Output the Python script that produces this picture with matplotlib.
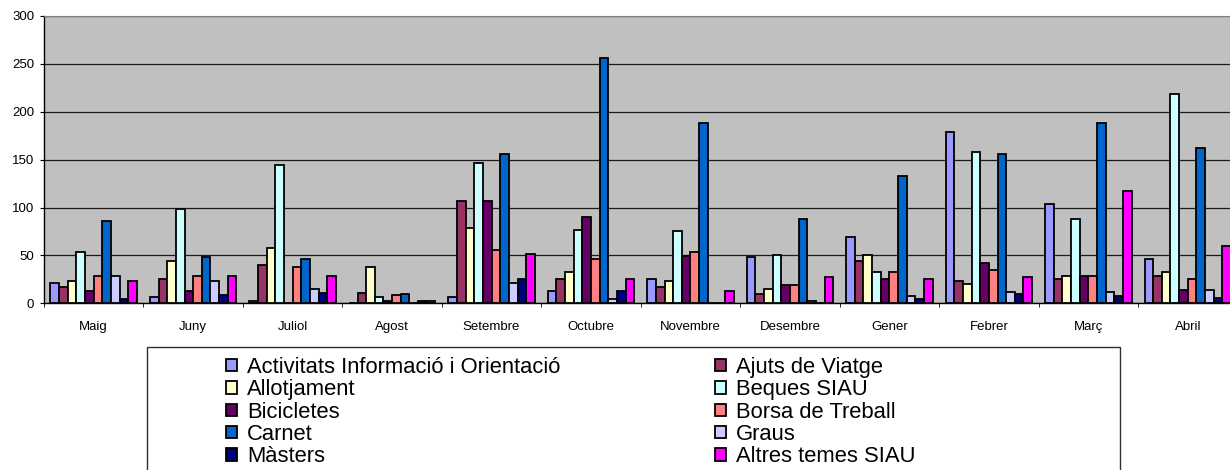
import numpy as np
import matplotlib
matplotlib.use("Agg")
import matplotlib.pyplot as plt
from matplotlib.patches import Rectangle, Patch

plt.rcParams['font.family'] = ['Liberation Sans', 'DejaVu Sans']

mesos = ['Maig', 'Juny', 'Juliol', 'Agost', 'Setembre', 'Octubre', 'Novembre',
         'Desembre', 'Gener', 'Febrer', 'Març', 'Abril']

temes = ['Activitats Informació i Orientació', 'Ajuts de Viatge', 'Allotjament',
         'Beques SIAU', 'Bicicletes', 'Borsa de Treball', 'Carnet', 'Graus',
         'Màsters', 'Altres temes SIAU']

activitats  = [21, 7, 2, 0, 7, 13, 25, 48, 69, 179, 104, 46]
ajuts       = [17, 25, 40, 11, 107, 25, 17, 10, 44, 23, 25, 29]
allotjament = [23, 44, 58, 38, 79, 33, 23, 15, 50, 20, 29, 33]
beques      = [54, 98, 144, 7, 146, 77, 75, 50, 33, 158, 88, 219]
bicicletes  = [13, 13, 0, 2, 107, 90, 49, 19, 25, 42, 29, 14]
borsa       = [29, 29, 38, 9, 56, 46, 54, 19, 33, 35, 29, 25]
carnet      = [86, 48, 46, 10, 156, 256, 188, 88, 133, 156, 188, 162]
graus       = [29, 23, 15, 0, 21, 4, 0, 2, 8, 12, 12, 14]
masters     = [5, 9, 11, 2, 25, 13, 0, 0, 4, 10, 8, 6]
altres      = [23, 29, 28, 2, 52, 25, 13, 27, 25, 27, 117, 60]

series = [activitats, ajuts, allotjament, beques, bicicletes, borsa, carnet,
          graus, masters, altres]
colors = ['#9999FF', '#993366', '#FFFFCC', '#CCFFFF', '#660066', '#FF8080',
          '#0066CC', '#CCCCFF', '#000080', '#FF00FF']

W, H = 1230, 470
fig = plt.figure(figsize=(W / 100, H / 100), dpi=100)
ax = fig.add_axes([44 / W, (H - 303.3) / H, 1193.5 / W, 287.3 / H])
ax.set_facecolor('#C0C0C0')

x = np.arange(len(mesos))
n = len(series)
bw = 1 / (n + 1.5)   # gap of 150% between groups
for i, (vals, c) in enumerate(zip(series, colors)):
    ax.bar(x + (i - (n - 1) / 2) * bw, vals, bw, color=c, edgecolor='black',
           linewidth=1.3, zorder=3, label=temes[i])

ax.set_xlim(-0.5, len(mesos) - 0.5)
ax.set_ylim(0, 300)
ax.set_yticks(range(0, 301, 50))
ax.yaxis.grid(True, color='#1a1a1a', linewidth=0.9, zorder=1)
ax.tick_params(axis='y', labelsize=9.5, length=3, pad=4, direction='out')

ax.set_xticks(x, mesos)
ax.set_xticks(np.arange(-0.5, len(mesos)), minor=True)
ax.tick_params(axis='x', which='major', length=0, labelsize=9.5, pad=13)
ax.tick_params(axis='x', which='minor', length=3, direction='out')

ax.spines['right'].set_visible(False)
ax.spines['top'].set_color('#808080')
ax.spines['left'].set_linewidth(1.0)
ax.spines['bottom'].set_linewidth(1.0)

# legend frame and two columns
fig.add_artist(Rectangle((147 / W, -0.01), (1120 - 147) / W, (H - 347) / H + 0.01,
                         transform=fig.transFigure, fill=False,
                         edgecolor='#303030', linewidth=1.0))

handles = [Patch(facecolor=c, edgecolor='black', linewidth=1.3) for c in colors]
for col, xpix in [(0, 226), (1, 715)]:
    idx = list(range(col, n, 2))
    fig.legend([handles[k] for k in idx], [temes[k] for k in idx],
               loc='upper left', bbox_to_anchor=(xpix / W, 1 - 357 / H),
               frameon=False, fontsize=15.8, handlelength=0.5,
               handleheight=0.5, handletextpad=0.45, labelspacing=0.06,
               borderpad=0, borderaxespad=0)

fig.savefig('out.png', dpi=100)
